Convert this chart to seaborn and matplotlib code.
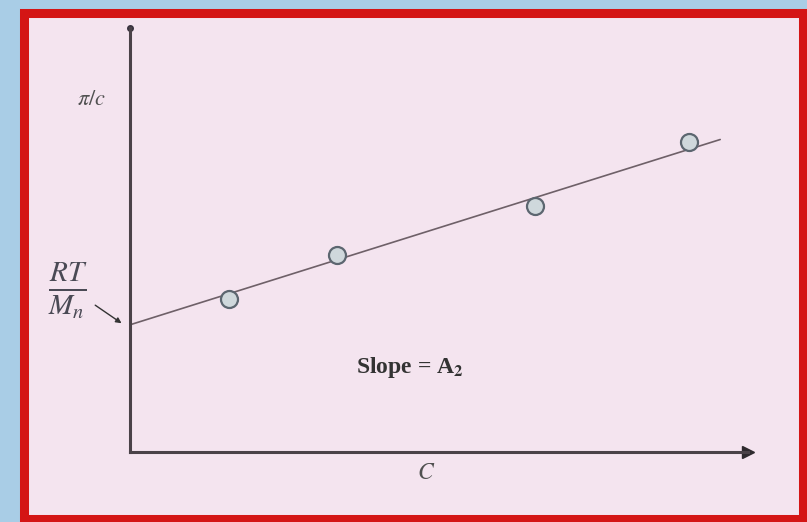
import numpy as np
import pandas as pd
import matplotlib.pyplot as plt
import seaborn as sns
from matplotlib.patches import Rectangle

# measured points: concentration C vs reduced osmotic pressure pi/c
conc = [1.6, 3.35, 6.55, 9.05]
pi_c = [3.6, 4.65, 5.8, 7.3]

# straight-line fit drawn through the points (start and end)
fit_x = [0.0, 9.55]
fit_y = [3.0, 7.37]

points = pd.DataFrame({'C': conc, 'pi_c': pi_c})
fit = pd.DataFrame({'C': fit_x, 'pi_c': fit_y})

sns.set_theme(style="white")
plt.rcParams['font.family'] = ['Liberation Serif', 'DejaVu Serif']
plt.rcParams['mathtext.fontset'] = 'stix'

fig = plt.figure(figsize=(8.07, 5.22), dpi=100)
fig.patch.set_facecolor('#a9cde6')

# slide frame: pink panel with a red border
frame = Rectangle((24 / 807, 3 / 522), 779 / 807, 506 / 522, transform=fig.transFigure,
                  facecolor='#f4e4ef', edgecolor='#d41515', linewidth=6.5, zorder=-5)
fig.patches.append(frame)

ax = fig.add_axes([130 / 807, 70 / 522, 618 / 807, 424 / 522])
ax.set_facecolor('none')
ax.set_zorder(2)

sns.lineplot(data=fit, x='C', y='pi_c', ax=ax, color='#6e6068', linewidth=1.2)
sns.scatterplot(data=points, x='C', y='pi_c', ax=ax, s=150, marker='o',
                facecolor='#cfd8dc', edgecolor='#5c6670', linewidth=1.6, zorder=3)

ax.set_xlim(0, 10)
ax.set_ylim(0, 10)
ax.set_xticks([])
ax.set_yticks([])
ax.set_xlabel('')
ax.set_ylabel('')
for side in ['top', 'right']:
    ax.spines[side].set_visible(False)
for side in ['left', 'bottom']:
    ax.spines[side].set_color('#4a4248')
    ax.spines[side].set_linewidth(2.2)

# axis end markers
ax.plot(10, 0, marker='>', color='#2e2a2e', markersize=9, clip_on=False)
ax.plot(0, 10, marker='o', color='#3a3440', markersize=4, clip_on=False)

# labels
ax.text(-0.62, 8.3, r'$\pi/c$', fontsize=16, color='#505050', ha='center', va='center')
ax.text(-1.0, 3.8, r'$\frac{RT}{M_n}$', fontsize=30, color='#4a4a55', ha='center', va='center')
ax.annotate('', xy=(-0.1, 3.0), xytext=(-0.6, 3.5), annotation_clip=False,
            arrowprops=dict(arrowstyle='-|>', color='#333333', lw=1, mutation_scale=8))
ax.text(4.53, 2.0, r'Slope = A$_\mathbf{2}$', fontsize=17, fontweight='bold',
        color='#333333', ha='center', va='center')
ax.text(4.8, -0.5, r'$C$', fontsize=17, color='#505050', ha='center', va='center')

plt.savefig('out.png', dpi=100)
